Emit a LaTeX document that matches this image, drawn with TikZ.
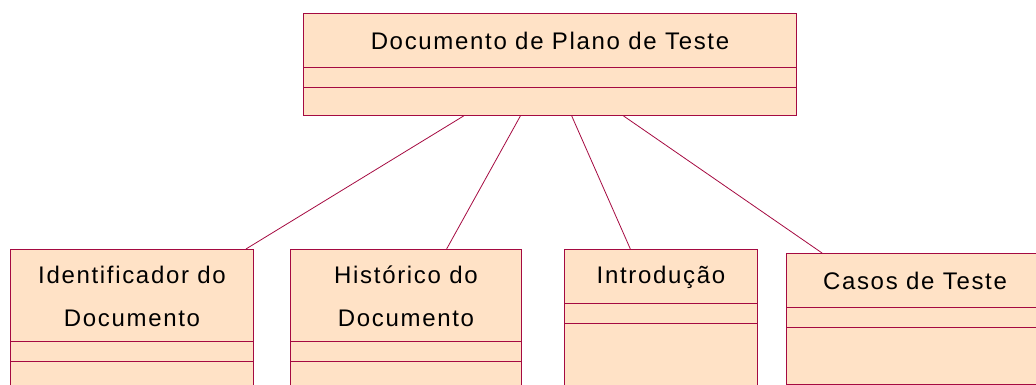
\documentclass[tikz,border=0pt]{standalone}
\usepackage{fontspec}
\setmainfont{Liberation Sans}[LetterSpace=7]
\usepackage{tikz}
\usetikzlibrary{calc}

\definecolor{classfill}{RGB}{255,226,198}
\definecolor{classline}{RGB}{165,10,65}

\tikzset{
  classbox/.style={draw=classline, fill=classfill, line width=1pt, rectangle,
    anchor=north west, inner sep=0pt},
  classname/.style={align=center, font=\fontsize{24}{43}\selectfont, inner sep=0pt},
  assoc/.style={draw=classline, line width=0.8pt}
}

% two compartment lines below the name, at offsets from the top edge
\newcommand{\compart}[3]{%
  \draw[classline, line width=0.8pt] ($(#1.north west)+(0,#2)$) -- ($(#1.north east)+(0,#2)$);
  \draw[classline, line width=0.8pt] ($(#1.north west)+(0,#3)$) -- ($(#1.north east)+(0,#3)$);
}

\begin{document}
\begin{tikzpicture}[x=1pt, y=-1pt]
  \useasboundingbox (0,0) rectangle (1036,385);
  \clip (0,0) rectangle (1036,385);

  % classes
  \node[classbox, minimum width=493pt, minimum height=102pt] (plano) at (303,13) {};
  \node[classbox, minimum width=243pt, minimum height=150pt] (ident) at (10,249) {};
  \node[classbox, minimum width=231pt, minimum height=150pt] (hist) at (290,249) {};
  \node[classbox, minimum width=193pt, minimum height=150pt] (intro) at (564,249) {};
  \node[classbox, minimum width=270pt, minimum height=131pt] (casos) at (786,253) {};

  \compart{plano}{54}{74}
  \compart{ident}{92}{112}
  \compart{hist}{92}{112}
  \compart{intro}{54}{74}
  \compart{casos}{54}{74}

  % names
  \node[classname] (plano-name) at ($(plano.north)+(0,28)$) {Documento de Plano de Teste};
  \node[classname] (ident-name) at ($(ident.north)+(0,47)$) {Identificador do\\Documento};
  \node[classname] (hist-name) at ($(hist.north)+(0,47)$) {Histórico do\\Documento};
  \node[classname] (intro-name) at ($(intro.north)+(0,28)$) {Introdução};
  \node[classname] (casos-name) at ($(casos.north west)+(129,28)$) {Casos de Teste};

  % associations
  \path[assoc]
  ($(plano.south west)!0.325!(plano.south east)$) edge ($(ident.north west)!0.967!(ident.north east)$)
  ($(plano.south west)!0.440!(plano.south east)$) edge ($(hist.north west)!0.675!(hist.north east)$)
  ($(plano.south west)!0.544!(plano.south east)$) edge ($(intro.north west)!0.342!(intro.north east)$)
  ($(plano.south west)!0.649!(plano.south east)$) edge ($(casos.north west)!0.133!(casos.north east)$)
  ;
\end{tikzpicture}
\end{document}
